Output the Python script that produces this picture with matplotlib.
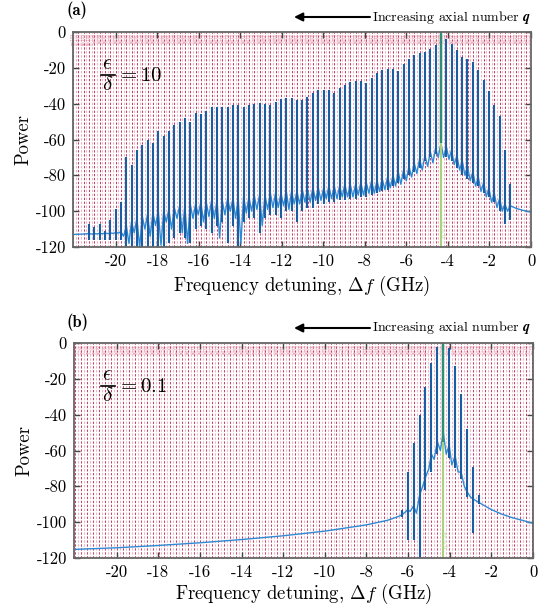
import numpy as np
import matplotlib
matplotlib.use('Agg')
import matplotlib.pyplot as plt
from matplotlib.lines import Line2D

plt.rcParams['font.family'] = ['cmr10', 'DejaVu Serif']
plt.rcParams['mathtext.fontset'] = 'cm'
plt.rcParams['axes.formatter.use_mathtext'] = True
plt.rcParams['axes.unicode_minus'] = False

# ---------------- data: panel (a) ----------------
spike_x_a = [-21.30, -21.05, -20.79, -20.53, -20.27, -20.02, -19.76, -19.50, -19.25, -18.99,
             -18.73, -18.48, -18.22, -17.96, -17.70, -17.45, -17.19, -16.93, -16.68, -16.42,
             -16.16, -15.91, -15.65, -15.39, -15.13, -14.88, -14.62, -14.36, -14.11, -13.85,
             -13.59, -13.34, -13.08, -12.82, -12.56, -12.31, -12.05, -11.79, -11.54, -11.28,
             -11.02, -10.77, -10.51, -10.25, -9.99, -9.74, -9.48, -9.22, -8.97, -8.71,
             -8.45, -8.20, -7.94, -7.68, -7.42, -7.17, -6.91, -6.65, -6.40, -6.14,
             -5.88, -5.63, -5.37, -5.11, -4.85, -4.60, -4.34, -4.08, -3.83, -3.57,
             -3.31, -3.06, -2.80, -2.54, -2.28, -2.03, -1.77, -1.51, -1.26, -1.00]
spike_top_a = [-107, -109, -107, -111, -105, -99, -95, -70, -74, -66,
               -63, -60, -62, -55, -58, -55, -52, -50, -48, -50,
               -45, -46, -44, -42, -42, -42, -42, -41, -41, -42,
               -41, -40, -39.8, -40, -41, -39, -37.5, -37, -36.6, -38,
               -38, -36, -34, -32.4, -32.4, -32.4, -33.9, -31.5, -29.6, -27.7,
               -27.4, -27.4, -28.7, -25.9, -22.7, -21.2, -20.7, -20.7, -21.6, -17.9,
               -15.3, -12.8, -11.6, -11.0, -9.7, -7.3, -1.0, -4.0, -6.9, -10.0,
               -14.0, -15.0, -17.0, -21.0, -27.0, -33.0, -41.0, -47.0, -66.0, -85.0]
spike_bot_a = [-116, -116, -116, -116, -116, -116, -116, -120, -120, -120,
               -120, -120, -120, -120, -120, -118, -115, -112, -115, -118,
               -110, -108, -110, -112, -108, -106, -118, -108, -120, -106,
               -104, -104, -112, -104, -102, -102, -104, -100, -100, -106,
               -100, -98, -98, -96, -96, -95, -95, -94, -94, -93,
               -93, -92, -92, -91, -90, -89, -88, -86, -84, -82,
               -80, -78, -76, -72, -70, -68, -62, -70, -72, -76,
               -80, -82, -84, -86, -90, -92, -95, -100, -107, -105]
# light trace: level at each mode and dip level between modes
floor_peak_a = [-112.5, -112.5, -112.4, -112.3, -112.2, -112.0, -111.5, -108, -106, -104,
                -103, -102, -101, -100, -100, -99, -98, -97, -97, -96,
                -96, -95, -95, -94, -94, -94, -93, -93, -93, -92,
                -92, -91, -91, -91, -90, -90, -90, -89, -89, -89,
                -88, -88, -87, -87, -87, -86, -86, -86, -85, -85,
                -85, -84, -84, -83, -83, -82, -81, -80, -78, -77,
                -75, -73, -71, -69, -67, -65, -62, -64, -66, -69,
                -72, -75, -78, -81, -84, -87, -90, -93, -96, -97]
floor_dip_a = [-112.8, -112.7, -112.6, -112.5, -112.4, -112.2, -114, -118, -112, -120,
               -110, -114, -108, -119, -106, -110, -104, -112, -118, -104,
               -102, -106, -103, -104, -115, -102, -100, -104, -118, -101,
               -100, -99, -108, -99, -98, -98, -97, -99, -96, -96,
               -95, -95, -94, -94, -93, -93, -93, -92, -92, -92,
               -91, -91, -90, -90, -89, -88, -87, -86, -85, -83,
               -81, -79, -77, -75, -73, -70, -70, -71, -74, -77,
               -80, -83, -86, -89, -92, -95, -98, -100, -100]
tail_left_x_a = [-22.07, -21.6]
tail_left_y_a = [-113.0, -112.8]
tail_right_x_a = [-0.7, -0.4, 0.0]
tail_right_y_a = [-98.5, -99.5, -100.5]

# ---------------- data: panel (b) ----------------
spike_x_b = [-6.305, -6.02, -5.735, -5.45, -5.165, -4.88, -4.595, -4.31, -4.025, -3.74,
             -3.455, -3.17, -2.885, -2.60]
spike_top_b = [-93, -72, -56, -40, -24.6, -11, -2, 0, -3, -13, -28.5, -48, -69, -85]
spike_bot_b = [-97, -110, -110, -120, -82, -72, -62, -52, -64, -70, -76, -86, -106, -90]
bg_x_b = [-22.05, -20, -18, -16, -14, -12, -10, -8, -7, -6.5, -6.305, -6.1, -6.02, -5.9,
          -5.8, -5.735, -5.6, -5.45, -5.3, -5.165, -5.0, -4.88, -4.75, -4.595, -4.45,
          -4.31, -4.17, -4.025, -3.9, -3.74, -3.6, -3.455, -3.3, -3.17, -3.0, -2.885,
          -2.6, -2.3, -2, -1.5, -1, -0.5, 0]
bg_y_b = [-115.2, -114.3, -113, -111.5, -109.7, -107.6, -105, -101.5, -99, -97, -96,
          -94, -93, -94, -92, -91, -95, -85, -80, -75, -70, -62, -65, -55, -60, -50,
          -62, -57, -68, -63, -72, -72, -80, -83, -86, -87, -89, -91, -93, -95.5,
          -97.5, -99, -100.7]

xticks = [-20, -18, -16, -14, -12, -10, -8, -6, -4, -2, 0]
yticks = [0, -20, -40, -60, -80, -100, -120]
xticklabels = ['-20', '-18', '-16', '-14', '-12', '-10', '-8', '-6', '-4', '-2', '0']
yticklabels = ['0', '-20', '-40', '-60', '-80', '-100', '-120']

q_center = 34
f_center = -4.33
spacing_a = 0.257
spacing_b = 0.285

SPIKE = '#1a5da3'
TRACE = '#2f8ad6'
DARKRED = '#c8406a'
LIGHTPINK = '#efb3c2'

W, H = 550, 608
fig = plt.figure(figsize=(5.5, 6.08), dpi=100)
ax1 = fig.add_axes([73/W, 1-247/H, 458/W, 215/H])
ax2 = fig.add_axes([74/W, 1-558/H, 459/W, 215/H])


def mode_grid(ax, spacing, center):
    kmin = int(np.floor((-22.1 - center) / spacing))
    kmax = int(np.ceil((0 - center) / spacing))
    for k in range(kmin, kmax + 1):
        f = center + k * spacing
        if -22.1 < f < 0:
            ax.axvline(f, color=DARKRED, lw=0.75, ls=(0, (2.2, 1.6)), zorder=1)
            ax.text(f, -0.6, 'q=%d' % (q_center - k), rotation=90, fontsize=2.6,
                    color=DARKRED, ha='center', va='top', alpha=0.7, zorder=1,
                    family='DejaVu Sans')
        fm = f + spacing / 2
        if -22.1 < fm < 0:
            ax.axvline(fm, color=LIGHTPINK, lw=0.75, ls=(0, (2.2, 1.6)), zorder=1)
            ax.text(fm, -0.6, 'p=%d' % (q_center - k), rotation=90, fontsize=2.6,
                    color=LIGHTPINK, ha='center', va='top', zorder=1,
                    family='DejaVu Sans')


def style(ax, xlim, lpad):
    ax.set_xlim(*xlim)
    ax.set_ylim(-120, 0)
    ax.set_xticks(xticks)
    ax.set_xticklabels(xticklabels)
    ax.set_yticks(yticks)
    ax.set_yticklabels(yticklabels)
    ax.tick_params(direction='in', top=True, right=True, length=4, width=1,
                   color='#444444', labelsize=12, pad=5)
    for s in ax.spines.values():
        s.set_color('#666666')
        s.set_linewidth(1.3)
        s.set_zorder(6)
    ax.set_xlabel(r'Frequency detuning, $\Delta f$ (GHz)', fontsize=13.5, labelpad=lpad)
    ax.set_ylabel('Power', fontsize=13.5, labelpad=2)


def ratio_label(ypix_eps, ypix_bar, ypix_del, value):
    fig.text(107/W, 1-ypix_eps/H, r'$\epsilon$', fontsize=15, ha='center', va='center')
    fig.add_artist(Line2D([101/W, 114.5/W], [1-ypix_bar/H, 1-ypix_bar/H],
                          transform=fig.transFigure, color='black', lw=1.2))
    fig.text(107.5/W, 1-ypix_del/H, r'$\delta$', fontsize=15, ha='center', va='center')
    fig.text(117/W, 1-(ypix_bar+1)/H, r'$= %s$' % value, fontsize=15, ha='left',
             va='center')


# ---- panel (a)
mode_grid(ax1, spacing_a, f_center)
sx = np.array(spike_x_a)
mid_x = (sx[:-1] + sx[1:]) / 2
trace_x = list(tail_left_x_a)
trace_y = list(tail_left_y_a)
for i in range(len(sx)):
    trace_x.append(sx[i]); trace_y.append(floor_peak_a[i])
    if i < len(mid_x):
        trace_x.append(mid_x[i]); trace_y.append(floor_dip_a[i])
trace_x += tail_right_x_a
trace_y += tail_right_y_a
ax1.plot(trace_x, trace_y, color=TRACE, lw=1.0, zorder=3)
ax1.vlines(spike_x_a, spike_bot_a, spike_top_a, color=SPIKE, lw=1.5, zorder=4)
ax1.axvline(f_center, color='#a9d27f', lw=1.5, zorder=5)
ax1.vlines([f_center], [-62], [0], color='#2f8f74', lw=1.7, zorder=5)
ax1.text(f_center + 0.12, -110, 'q = 34', rotation=90, fontsize=4, color='#a9d27f',
         ha='center', va='center', zorder=5)
style(ax1, (-22.07, 0), 3)
ratio_label(64, 75, 85, '10')

# ---- panel (b)
mode_grid(ax2, spacing_b, f_center + 0.02)
ax2.plot(bg_x_b, bg_y_b, color=TRACE, lw=1.0, zorder=3)
ax2.vlines(spike_x_b, spike_bot_b, spike_top_b, color=SPIKE, lw=1.5, zorder=4)
ax2.axvline(-4.31, color='#a9d27f', lw=1.5, zorder=5)
ax2.vlines([-4.31], [-55], [0], color='#2f8f74', lw=1.7, zorder=5)
ax2.text(-4.31 + 0.12, -110, 'q = 34', rotation=90, fontsize=4, color='#a9d27f',
         ha='center', va='center', zorder=5)
style(ax2, (-22.05, 0), 1.5)
ratio_label(375, 386, 396, '0.1')

# panel letters and arrows
fig.text(67/W, 1-10/H, '(a)', fontsize=12, family='cmb10', va='center', ha='left')
fig.text(67/W, 1-322/H, '(b)', fontsize=12, family='cmb10', va='center', ha='left')
for ypix in (17, 328):
    fig.text(531/W, 1-ypix/H, r'Increasing axial number $\boldsymbol{q}$', fontsize=10,
             va='center', ha='right')
    fig.add_artist(matplotlib.patches.FancyArrowPatch(
        (370/W, 1-ypix/H), (294/W, 1-ypix/H), transform=fig.transFigure,
        arrowstyle='-|>,head_length=5,head_width=2.5', color='black', lw=1.5,
        shrinkA=0, shrinkB=0))

fig.savefig('out.png', dpi=100)
